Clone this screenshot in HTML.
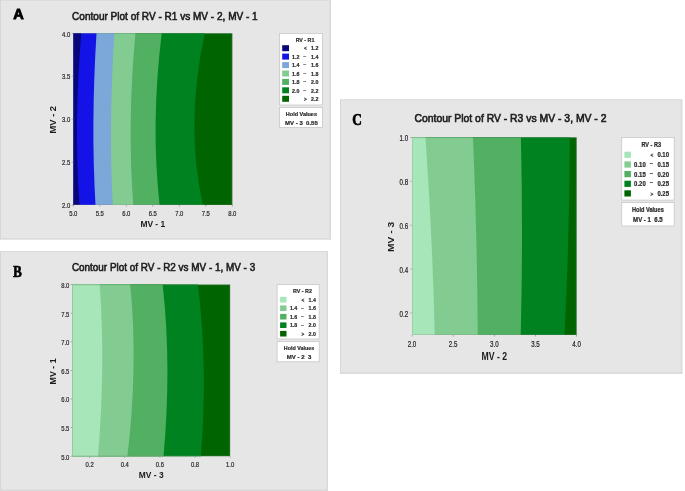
<!DOCTYPE html>
<html lang="en">
<head>
<meta charset="utf-8">
<title>Contour Plots</title>
<style>
html,body{margin:0;padding:0;background:#fff;}
body{width:685px;height:491px;overflow:hidden;}
svg{display:block;font-family:"Liberation Sans",sans-serif;}
</style>
</head>
<body>
<svg width="685" height="491" viewBox="0 0 685 491">
<rect x="0" y="0" width="331" height="239.5" fill="#e6e6e6"/>
<rect x="0" y="0" width="331" height="1" fill="#dcdcdc"/>
<rect x="0" y="0" width="1" height="239.5" fill="#d6d6d6"/>
<rect x="0" y="238.0" width="331" height="1.5" fill="#dadada"/>
<rect x="329.5" y="0" width="1.5" height="239.5" fill="#dadada"/>
<text x="13.3" y="19.2" font-size="14.6" text-anchor="start" fill="#000" font-weight="bold" textLength="10.5" lengthAdjust="spacingAndGlyphs" stroke="#000" stroke-width="0.9">A</text>
<text x="72.1" y="19.5" font-size="10.0" text-anchor="start" fill="#1c1c1c" textLength="185.6" lengthAdjust="spacingAndGlyphs" stroke="#1c1c1c" stroke-width="0.55">Contour Plot of RV - R1 vs MV - 2, MV - 1</text>
<rect x="73.3" y="33.3" width="159.0" height="171.7" fill="#006400"/>
<path d="M73.3 33.3L204.8 33.3Q184.8 124.8 202.9 205.0L73.3 205.0Z" fill="#008220"/>
<path d="M73.3 33.3L161.7 33.3Q150.6 124.8 159.6 205.0L73.3 205.0Z" fill="#52b062"/>
<path d="M73.3 33.3L135.4 33.3Q127.0 124.8 133.3 205.0L73.3 205.0Z" fill="#82cc92"/>
<path d="M73.3 33.3L114.4 33.3Q108.4 124.8 112.8 205.0L73.3 205.0Z" fill="#7ba7d9"/>
<path d="M73.3 33.3L96.5 33.3Q90.8 124.8 95.5 205.0L73.3 205.0Z" fill="#1313e8"/>
<path d="M73.3 33.3L81.3 33.3Q73.6 124.8 79.5 205.0L73.3 205.0Z" fill="#07077a"/>
<rect x="73.7" y="33.7" width="158.2" height="170.9" fill="none" stroke="#7a8a7a" stroke-opacity="0.3" stroke-width="0.8"/>
<rect x="72.9" y="205.0" width="0.8" height="1.6" fill="#9a9a9a"/>
<text x="73.3" y="215.9" font-size="7.2" text-anchor="middle" fill="#262626" textLength="8.2" lengthAdjust="spacingAndGlyphs" stroke="#262626" stroke-width="0.2">5.0</text>
<rect x="99.4" y="205.0" width="0.8" height="1.6" fill="#9a9a9a"/>
<text x="99.8" y="215.9" font-size="7.2" text-anchor="middle" fill="#262626" textLength="8.2" lengthAdjust="spacingAndGlyphs" stroke="#262626" stroke-width="0.2">5.5</text>
<rect x="125.9" y="205.0" width="0.8" height="1.6" fill="#9a9a9a"/>
<text x="126.3" y="215.9" font-size="7.2" text-anchor="middle" fill="#262626" textLength="8.2" lengthAdjust="spacingAndGlyphs" stroke="#262626" stroke-width="0.2">6.0</text>
<rect x="152.4" y="205.0" width="0.8" height="1.6" fill="#9a9a9a"/>
<text x="152.8" y="215.9" font-size="7.2" text-anchor="middle" fill="#262626" textLength="8.2" lengthAdjust="spacingAndGlyphs" stroke="#262626" stroke-width="0.2">6.5</text>
<rect x="178.9" y="205.0" width="0.8" height="1.6" fill="#9a9a9a"/>
<text x="179.3" y="215.9" font-size="7.2" text-anchor="middle" fill="#262626" textLength="8.2" lengthAdjust="spacingAndGlyphs" stroke="#262626" stroke-width="0.2">7.0</text>
<rect x="205.4" y="205.0" width="0.8" height="1.6" fill="#9a9a9a"/>
<text x="205.8" y="215.9" font-size="7.2" text-anchor="middle" fill="#262626" textLength="8.2" lengthAdjust="spacingAndGlyphs" stroke="#262626" stroke-width="0.2">7.5</text>
<rect x="231.9" y="205.0" width="0.8" height="1.6" fill="#9a9a9a"/>
<text x="232.3" y="215.9" font-size="7.2" text-anchor="middle" fill="#262626" textLength="8.2" lengthAdjust="spacingAndGlyphs" stroke="#262626" stroke-width="0.2">8.0</text>
<rect x="71.7" y="32.9" width="1.6" height="0.8" fill="#9a9a9a"/>
<text x="70.2" y="36.5" font-size="7.2" text-anchor="end" fill="#262626" textLength="8.2" lengthAdjust="spacingAndGlyphs" stroke="#262626" stroke-width="0.2">4.0</text>
<rect x="71.7" y="75.8" width="1.6" height="0.8" fill="#9a9a9a"/>
<text x="70.2" y="79.4" font-size="7.2" text-anchor="end" fill="#262626" textLength="8.2" lengthAdjust="spacingAndGlyphs" stroke="#262626" stroke-width="0.2">3.5</text>
<rect x="71.7" y="118.7" width="1.6" height="0.8" fill="#9a9a9a"/>
<text x="70.2" y="122.3" font-size="7.2" text-anchor="end" fill="#262626" textLength="8.2" lengthAdjust="spacingAndGlyphs" stroke="#262626" stroke-width="0.2">3.0</text>
<rect x="71.7" y="161.7" width="1.6" height="0.8" fill="#9a9a9a"/>
<text x="70.2" y="165.3" font-size="7.2" text-anchor="end" fill="#262626" textLength="8.2" lengthAdjust="spacingAndGlyphs" stroke="#262626" stroke-width="0.2">2.5</text>
<rect x="71.7" y="204.6" width="1.6" height="0.8" fill="#9a9a9a"/>
<text x="70.2" y="208.2" font-size="7.2" text-anchor="end" fill="#262626" textLength="8.2" lengthAdjust="spacingAndGlyphs" stroke="#262626" stroke-width="0.2">2.0</text>
<text x="152.8" y="226.9" font-size="8.2" text-anchor="middle" fill="#1c1c1c" font-weight="bold" textLength="24.8" lengthAdjust="spacingAndGlyphs">MV - 1</text>
<g transform="translate(56.1 119.7) rotate(-90) scale(1.0 1.0)"><text x="0.0" y="0.0" font-size="8.2" text-anchor="middle" fill="#1c1c1c" font-weight="bold" textLength="27.5" lengthAdjust="spacingAndGlyphs">MV - 2</text></g>
<rect x="279.5" y="33.5" width="42.9" height="71.5" fill="#fff" stroke="#c8c8c8" stroke-width="0.8"/>
<text x="305.0" y="41.7" font-size="5.794999999999999" text-anchor="middle" fill="#2a2a2a" font-weight="bold" textLength="18.7" lengthAdjust="spacingAndGlyphs" stroke="#2a2a2a" stroke-width="0.2">RV - R1</text>
<rect x="282.2" y="45.2" width="6.8" height="6" fill="#07077a"/>
<text x="305.4" y="50.1" font-size="4.758" text-anchor="middle" fill="#2a2a2a" font-weight="bold" stroke="#2a2a2a" stroke-width="0.2">&lt;</text>
<text x="318.5" y="50.4" font-size="6.1" text-anchor="end" fill="#2a2a2a" font-weight="bold" textLength="7.4" lengthAdjust="spacingAndGlyphs" stroke="#2a2a2a" stroke-width="0.2">1.2</text>
<rect x="282.2" y="53.6" width="6.8" height="6" fill="#1313e8"/>
<text x="299.5" y="58.8" font-size="6.1" text-anchor="end" fill="#2a2a2a" font-weight="bold" textLength="7.4" lengthAdjust="spacingAndGlyphs" stroke="#2a2a2a" stroke-width="0.2">1.2</text>
<text x="304.7" y="57.9" font-size="6.1" text-anchor="middle" fill="#2a2a2a" font-weight="bold" textLength="3.3" lengthAdjust="spacingAndGlyphs">–</text>
<text x="318.5" y="58.8" font-size="6.1" text-anchor="end" fill="#2a2a2a" font-weight="bold" textLength="7.4" lengthAdjust="spacingAndGlyphs" stroke="#2a2a2a" stroke-width="0.2">1.4</text>
<rect x="282.2" y="62.1" width="6.8" height="6" fill="#7ba7d9"/>
<text x="299.5" y="67.3" font-size="6.1" text-anchor="end" fill="#2a2a2a" font-weight="bold" textLength="7.4" lengthAdjust="spacingAndGlyphs" stroke="#2a2a2a" stroke-width="0.2">1.4</text>
<text x="304.7" y="66.4" font-size="6.1" text-anchor="middle" fill="#2a2a2a" font-weight="bold" textLength="3.3" lengthAdjust="spacingAndGlyphs">–</text>
<text x="318.5" y="67.3" font-size="6.1" text-anchor="end" fill="#2a2a2a" font-weight="bold" textLength="7.4" lengthAdjust="spacingAndGlyphs" stroke="#2a2a2a" stroke-width="0.2">1.6</text>
<rect x="282.2" y="70.5" width="6.8" height="6" fill="#82cc92"/>
<text x="299.5" y="75.7" font-size="6.1" text-anchor="end" fill="#2a2a2a" font-weight="bold" textLength="7.4" lengthAdjust="spacingAndGlyphs" stroke="#2a2a2a" stroke-width="0.2">1.6</text>
<text x="304.7" y="74.8" font-size="6.1" text-anchor="middle" fill="#2a2a2a" font-weight="bold" textLength="3.3" lengthAdjust="spacingAndGlyphs">–</text>
<text x="318.5" y="75.7" font-size="6.1" text-anchor="end" fill="#2a2a2a" font-weight="bold" textLength="7.4" lengthAdjust="spacingAndGlyphs" stroke="#2a2a2a" stroke-width="0.2">1.8</text>
<rect x="282.2" y="78.9" width="6.8" height="6" fill="#52b062"/>
<text x="299.5" y="84.1" font-size="6.1" text-anchor="end" fill="#2a2a2a" font-weight="bold" textLength="7.4" lengthAdjust="spacingAndGlyphs" stroke="#2a2a2a" stroke-width="0.2">1.8</text>
<text x="304.7" y="83.2" font-size="6.1" text-anchor="middle" fill="#2a2a2a" font-weight="bold" textLength="3.3" lengthAdjust="spacingAndGlyphs">–</text>
<text x="318.5" y="84.1" font-size="6.1" text-anchor="end" fill="#2a2a2a" font-weight="bold" textLength="7.4" lengthAdjust="spacingAndGlyphs" stroke="#2a2a2a" stroke-width="0.2">2.0</text>
<rect x="282.2" y="87.3" width="6.8" height="6" fill="#008220"/>
<text x="299.5" y="92.5" font-size="6.1" text-anchor="end" fill="#2a2a2a" font-weight="bold" textLength="7.4" lengthAdjust="spacingAndGlyphs" stroke="#2a2a2a" stroke-width="0.2">2.0</text>
<text x="304.7" y="91.6" font-size="6.1" text-anchor="middle" fill="#2a2a2a" font-weight="bold" textLength="3.3" lengthAdjust="spacingAndGlyphs">–</text>
<text x="318.5" y="92.5" font-size="6.1" text-anchor="end" fill="#2a2a2a" font-weight="bold" textLength="7.4" lengthAdjust="spacingAndGlyphs" stroke="#2a2a2a" stroke-width="0.2">2.2</text>
<rect x="282.2" y="95.8" width="6.8" height="6" fill="#006400"/>
<text x="305.4" y="100.7" font-size="4.758" text-anchor="middle" fill="#2a2a2a" font-weight="bold" stroke="#2a2a2a" stroke-width="0.2">&gt;</text>
<text x="318.5" y="101.0" font-size="6.1" text-anchor="end" fill="#2a2a2a" font-weight="bold" textLength="7.4" lengthAdjust="spacingAndGlyphs" stroke="#2a2a2a" stroke-width="0.2">2.2</text>
<rect x="279.5" y="107.6" width="42.9" height="19.9" fill="#fff" stroke="#c8c8c8" stroke-width="0.8"/>
<text x="301.4" y="115.8" font-size="6.0" text-anchor="middle" fill="#2a2a2a" font-weight="bold" textLength="31.2" lengthAdjust="spacingAndGlyphs" stroke="#2a2a2a" stroke-width="0.2">Hold Values</text>
<text x="301.4" y="124.6" font-size="6.0" text-anchor="middle" fill="#2a2a2a" font-weight="bold" textLength="32.7" lengthAdjust="spacingAndGlyphs" stroke="#2a2a2a" stroke-width="0.2" xml:space="preserve">MV - 3  0.55</text>
<rect x="0" y="251" width="328" height="240" fill="#e6e6e6"/>
<rect x="0" y="251" width="328" height="1" fill="#dcdcdc"/>
<rect x="0" y="251" width="1" height="240" fill="#d6d6d6"/>
<rect x="0" y="489.5" width="328" height="1.5" fill="#dadada"/>
<rect x="326.5" y="251" width="1.5" height="240" fill="#dadada"/>
<text x="12.9" y="276.5" font-size="15.8" text-anchor="start" fill="#000" font-weight="bold" textLength="8.8" lengthAdjust="spacingAndGlyphs" stroke="#000" stroke-width="0.6" font-family='"Liberation Serif", serif'>B</text>
<text x="71.9" y="270.5" font-size="10.0" text-anchor="start" fill="#1c1c1c" textLength="183.3" lengthAdjust="spacingAndGlyphs" stroke="#1c1c1c" stroke-width="0.55">Contour Plot of RV - R2 vs MV - 1, MV - 3</text>
<rect x="72.2" y="284.6" width="157.9" height="171.6" fill="#006400"/>
<path d="M72.2 284.6L197.9 284.6Q208.0 365.6 200.9 456.2L72.2 456.2Z" fill="#008220"/>
<path d="M72.2 284.6L162.6 284.6Q171.8 365.6 163.5 456.2L72.2 456.2Z" fill="#52b062"/>
<path d="M72.2 284.6L130.2 284.6Q138.2 365.6 127.4 456.2L72.2 456.2Z" fill="#82cc92"/>
<path d="M72.2 284.6L99.7 284.6Q105.6 365.6 98.0 456.2L72.2 456.2Z" fill="#a6e6b8"/>
<rect x="72.6" y="285.0" width="157.1" height="170.8" fill="none" stroke="#7a8a7a" stroke-opacity="0.3" stroke-width="0.8"/>
<rect x="89.3" y="456.2" width="0.8" height="1.6" fill="#9a9a9a"/>
<text x="89.7" y="466.7" font-size="7.2" text-anchor="middle" fill="#262626" textLength="8.2" lengthAdjust="spacingAndGlyphs" stroke="#262626" stroke-width="0.2">0.2</text>
<rect x="124.4" y="456.2" width="0.8" height="1.6" fill="#9a9a9a"/>
<text x="124.8" y="466.7" font-size="7.2" text-anchor="middle" fill="#262626" textLength="8.2" lengthAdjust="spacingAndGlyphs" stroke="#262626" stroke-width="0.2">0.4</text>
<rect x="159.5" y="456.2" width="0.8" height="1.6" fill="#9a9a9a"/>
<text x="159.9" y="466.7" font-size="7.2" text-anchor="middle" fill="#262626" textLength="8.2" lengthAdjust="spacingAndGlyphs" stroke="#262626" stroke-width="0.2">0.6</text>
<rect x="194.6" y="456.2" width="0.8" height="1.6" fill="#9a9a9a"/>
<text x="195.0" y="466.7" font-size="7.2" text-anchor="middle" fill="#262626" textLength="8.2" lengthAdjust="spacingAndGlyphs" stroke="#262626" stroke-width="0.2">0.8</text>
<rect x="229.7" y="456.2" width="0.8" height="1.6" fill="#9a9a9a"/>
<text x="230.1" y="466.7" font-size="7.2" text-anchor="middle" fill="#262626" textLength="8.2" lengthAdjust="spacingAndGlyphs" stroke="#262626" stroke-width="0.2">1.0</text>
<rect x="70.6" y="284.2" width="1.6" height="0.8" fill="#9a9a9a"/>
<text x="69.4" y="288.0" font-size="7.2" text-anchor="end" fill="#262626" textLength="8.2" lengthAdjust="spacingAndGlyphs" stroke="#262626" stroke-width="0.2">8.0</text>
<rect x="70.6" y="312.8" width="1.6" height="0.8" fill="#9a9a9a"/>
<text x="69.4" y="316.6" font-size="7.2" text-anchor="end" fill="#262626" textLength="8.2" lengthAdjust="spacingAndGlyphs" stroke="#262626" stroke-width="0.2">7.5</text>
<rect x="70.6" y="341.4" width="1.6" height="0.8" fill="#9a9a9a"/>
<text x="69.4" y="345.2" font-size="7.2" text-anchor="end" fill="#262626" textLength="8.2" lengthAdjust="spacingAndGlyphs" stroke="#262626" stroke-width="0.2">7.0</text>
<rect x="70.6" y="370.0" width="1.6" height="0.8" fill="#9a9a9a"/>
<text x="69.4" y="373.8" font-size="7.2" text-anchor="end" fill="#262626" textLength="8.2" lengthAdjust="spacingAndGlyphs" stroke="#262626" stroke-width="0.2">6.5</text>
<rect x="70.6" y="398.6" width="1.6" height="0.8" fill="#9a9a9a"/>
<text x="69.4" y="402.4" font-size="7.2" text-anchor="end" fill="#262626" textLength="8.2" lengthAdjust="spacingAndGlyphs" stroke="#262626" stroke-width="0.2">6.0</text>
<rect x="70.6" y="427.2" width="1.6" height="0.8" fill="#9a9a9a"/>
<text x="69.4" y="431.0" font-size="7.2" text-anchor="end" fill="#262626" textLength="8.2" lengthAdjust="spacingAndGlyphs" stroke="#262626" stroke-width="0.2">5.5</text>
<rect x="70.6" y="455.8" width="1.6" height="0.8" fill="#9a9a9a"/>
<text x="69.4" y="459.6" font-size="7.2" text-anchor="end" fill="#262626" textLength="8.2" lengthAdjust="spacingAndGlyphs" stroke="#262626" stroke-width="0.2">5.0</text>
<text x="151.2" y="478.2" font-size="8.2" text-anchor="middle" fill="#1c1c1c" font-weight="bold" textLength="24.8" lengthAdjust="spacingAndGlyphs">MV - 3</text>
<g transform="translate(55.7 371.4) rotate(-90) scale(1.0 1.0)"><text x="0.0" y="0.0" font-size="8.2" text-anchor="middle" fill="#1c1c1c" font-weight="bold" textLength="26.0" lengthAdjust="spacingAndGlyphs">MV - 1</text></g>
<rect x="277.1" y="284.6" width="42.1" height="54.4" fill="#fff" stroke="#c8c8c8" stroke-width="0.8"/>
<text x="302.4" y="293.0" font-size="5.794999999999999" text-anchor="middle" fill="#2a2a2a" font-weight="bold" textLength="19.0" lengthAdjust="spacingAndGlyphs" stroke="#2a2a2a" stroke-width="0.2">RV - R2</text>
<rect x="280.1" y="296.9" width="6.4" height="5.6" fill="#a6e6b8"/>
<text x="303.0" y="301.6" font-size="4.758" text-anchor="middle" fill="#2a2a2a" font-weight="bold" stroke="#2a2a2a" stroke-width="0.2">&lt;</text>
<text x="315.9" y="301.9" font-size="6.1" text-anchor="end" fill="#2a2a2a" font-weight="bold" textLength="7.3" lengthAdjust="spacingAndGlyphs" stroke="#2a2a2a" stroke-width="0.2">1.4</text>
<rect x="280.1" y="305.4" width="6.4" height="5.6" fill="#82cc92"/>
<text x="297.2" y="310.4" font-size="6.1" text-anchor="end" fill="#2a2a2a" font-weight="bold" textLength="7.3" lengthAdjust="spacingAndGlyphs" stroke="#2a2a2a" stroke-width="0.2">1.4</text>
<text x="302.3" y="309.5" font-size="6.1" text-anchor="middle" fill="#2a2a2a" font-weight="bold" textLength="3.3" lengthAdjust="spacingAndGlyphs">–</text>
<text x="315.9" y="310.4" font-size="6.1" text-anchor="end" fill="#2a2a2a" font-weight="bold" textLength="7.3" lengthAdjust="spacingAndGlyphs" stroke="#2a2a2a" stroke-width="0.2">1.6</text>
<rect x="280.1" y="313.9" width="6.4" height="5.6" fill="#52b062"/>
<text x="297.2" y="318.9" font-size="6.1" text-anchor="end" fill="#2a2a2a" font-weight="bold" textLength="7.3" lengthAdjust="spacingAndGlyphs" stroke="#2a2a2a" stroke-width="0.2">1.6</text>
<text x="302.3" y="318.0" font-size="6.1" text-anchor="middle" fill="#2a2a2a" font-weight="bold" textLength="3.3" lengthAdjust="spacingAndGlyphs">–</text>
<text x="315.9" y="318.9" font-size="6.1" text-anchor="end" fill="#2a2a2a" font-weight="bold" textLength="7.3" lengthAdjust="spacingAndGlyphs" stroke="#2a2a2a" stroke-width="0.2">1.8</text>
<rect x="280.1" y="322.4" width="6.4" height="5.6" fill="#008220"/>
<text x="297.2" y="327.4" font-size="6.1" text-anchor="end" fill="#2a2a2a" font-weight="bold" textLength="7.3" lengthAdjust="spacingAndGlyphs" stroke="#2a2a2a" stroke-width="0.2">1.8</text>
<text x="302.3" y="326.5" font-size="6.1" text-anchor="middle" fill="#2a2a2a" font-weight="bold" textLength="3.3" lengthAdjust="spacingAndGlyphs">–</text>
<text x="315.9" y="327.4" font-size="6.1" text-anchor="end" fill="#2a2a2a" font-weight="bold" textLength="7.3" lengthAdjust="spacingAndGlyphs" stroke="#2a2a2a" stroke-width="0.2">2.0</text>
<rect x="280.1" y="330.9" width="6.4" height="5.6" fill="#006400"/>
<text x="303.0" y="335.6" font-size="4.758" text-anchor="middle" fill="#2a2a2a" font-weight="bold" stroke="#2a2a2a" stroke-width="0.2">&gt;</text>
<text x="315.9" y="335.9" font-size="6.1" text-anchor="end" fill="#2a2a2a" font-weight="bold" textLength="7.3" lengthAdjust="spacingAndGlyphs" stroke="#2a2a2a" stroke-width="0.2">2.0</text>
<rect x="277.1" y="341.5" width="42.1" height="20.3" fill="#fff" stroke="#c8c8c8" stroke-width="0.8"/>
<text x="299.0" y="350.0" font-size="6.0" text-anchor="middle" fill="#2a2a2a" font-weight="bold" textLength="30.3" lengthAdjust="spacingAndGlyphs" stroke="#2a2a2a" stroke-width="0.2">Hold Values</text>
<text x="299.0" y="358.6" font-size="6.0" text-anchor="middle" fill="#2a2a2a" font-weight="bold" textLength="24.5" lengthAdjust="spacingAndGlyphs" stroke="#2a2a2a" stroke-width="0.2" xml:space="preserve">MV - 2  3</text>
<rect x="340" y="99.3" width="342.3" height="274.5" fill="#e6e6e6"/>
<rect x="340" y="99.3" width="342.3" height="1" fill="#dcdcdc"/>
<rect x="340" y="99.3" width="1" height="274.5" fill="#d6d6d6"/>
<rect x="340" y="372.3" width="342.3" height="1.5" fill="#dadada"/>
<rect x="680.8" y="99.3" width="1.5" height="274.5" fill="#dadada"/>
<text x="352.3" y="124.6" font-size="16.4" text-anchor="start" fill="#000" font-weight="bold" textLength="9.6" lengthAdjust="spacingAndGlyphs" stroke="#000" stroke-width="0.7" font-family='"Liberation Serif", serif'>C</text>
<g transform="translate(414.5 122.4) scale(1.0 1.14)"><text x="0.0" y="0.0" font-size="10.0" text-anchor="start" fill="#1c1c1c" textLength="192.0" lengthAdjust="spacingAndGlyphs" stroke="#1c1c1c" stroke-width="0.55">Contour Plot of RV - R3 vs MV - 3, MV - 2</text></g>
<rect x="412.0" y="137.4" width="164.6" height="197.6" fill="#006400"/>
<path d="M412.0 137.4L569.8 137.4Q569.6 236.2 564.5 335.0L412.0 335.0Z" fill="#008220"/>
<path d="M412.0 137.4L520.9 137.4Q523.2 236.2 520.7 335.0L412.0 335.0Z" fill="#52b062"/>
<path d="M412.0 137.4L473.0 137.4Q477.2 236.2 477.7 335.0L412.0 335.0Z" fill="#82cc92"/>
<path d="M412.0 137.4L425.5 137.4Q432.5 236.2 434.7 335.0L412.0 335.0Z" fill="#a6e6b8"/>
<rect x="412.4" y="137.8" width="163.8" height="196.8" fill="none" stroke="#7a8a7a" stroke-opacity="0.3" stroke-width="0.8"/>
<rect x="411.6" y="335.0" width="0.8" height="1.6" fill="#9a9a9a"/>
<g transform="translate(412.0 346.7) scale(1.0 1.14)"><text x="0.0" y="0.0" font-size="7.2" text-anchor="middle" fill="#262626" textLength="8.6" lengthAdjust="spacingAndGlyphs" stroke="#262626" stroke-width="0.2">2.0</text></g>
<rect x="452.8" y="335.0" width="0.8" height="1.6" fill="#9a9a9a"/>
<g transform="translate(453.1 346.7) scale(1.0 1.14)"><text x="0.0" y="0.0" font-size="7.2" text-anchor="middle" fill="#262626" textLength="8.6" lengthAdjust="spacingAndGlyphs" stroke="#262626" stroke-width="0.2">2.5</text></g>
<rect x="493.9" y="335.0" width="0.8" height="1.6" fill="#9a9a9a"/>
<g transform="translate(494.3 346.7) scale(1.0 1.14)"><text x="0.0" y="0.0" font-size="7.2" text-anchor="middle" fill="#262626" textLength="8.6" lengthAdjust="spacingAndGlyphs" stroke="#262626" stroke-width="0.2">3.0</text></g>
<rect x="535.1" y="335.0" width="0.8" height="1.6" fill="#9a9a9a"/>
<g transform="translate(535.5 346.7) scale(1.0 1.14)"><text x="0.0" y="0.0" font-size="7.2" text-anchor="middle" fill="#262626" textLength="8.6" lengthAdjust="spacingAndGlyphs" stroke="#262626" stroke-width="0.2">3.5</text></g>
<rect x="576.2" y="335.0" width="0.8" height="1.6" fill="#9a9a9a"/>
<g transform="translate(576.6 346.7) scale(1.0 1.14)"><text x="0.0" y="0.0" font-size="7.2" text-anchor="middle" fill="#262626" textLength="8.6" lengthAdjust="spacingAndGlyphs" stroke="#262626" stroke-width="0.2">4.0</text></g>
<rect x="410.4" y="137.0" width="1.6" height="0.8" fill="#9a9a9a"/>
<g transform="translate(408.1 141.3) scale(1.0 1.14)"><text x="0.0" y="0.0" font-size="7.2" text-anchor="end" fill="#262626" textLength="8.6" lengthAdjust="spacingAndGlyphs" stroke="#262626" stroke-width="0.2">1.0</text></g>
<rect x="410.4" y="180.9" width="1.6" height="0.8" fill="#9a9a9a"/>
<g transform="translate(408.1 185.2) scale(1.0 1.14)"><text x="0.0" y="0.0" font-size="7.2" text-anchor="end" fill="#262626" textLength="8.6" lengthAdjust="spacingAndGlyphs" stroke="#262626" stroke-width="0.2">0.8</text></g>
<rect x="410.4" y="224.8" width="1.6" height="0.8" fill="#9a9a9a"/>
<g transform="translate(408.1 229.1) scale(1.0 1.14)"><text x="0.0" y="0.0" font-size="7.2" text-anchor="end" fill="#262626" textLength="8.6" lengthAdjust="spacingAndGlyphs" stroke="#262626" stroke-width="0.2">0.6</text></g>
<rect x="410.4" y="268.7" width="1.6" height="0.8" fill="#9a9a9a"/>
<g transform="translate(408.1 273.0) scale(1.0 1.14)"><text x="0.0" y="0.0" font-size="7.2" text-anchor="end" fill="#262626" textLength="8.6" lengthAdjust="spacingAndGlyphs" stroke="#262626" stroke-width="0.2">0.4</text></g>
<rect x="410.4" y="312.6" width="1.6" height="0.8" fill="#9a9a9a"/>
<g transform="translate(408.1 316.9) scale(1.0 1.14)"><text x="0.0" y="0.0" font-size="7.2" text-anchor="end" fill="#262626" textLength="8.6" lengthAdjust="spacingAndGlyphs" stroke="#262626" stroke-width="0.2">0.2</text></g>
<g transform="translate(494.3 359.9) scale(1.035 1.14)"><text x="0.0" y="0.0" font-size="8.8" text-anchor="middle" fill="#1c1c1c" font-weight="bold" textLength="24.8" lengthAdjust="spacingAndGlyphs">MV - 2</text></g>
<g transform="translate(393.5 236.9) rotate(-90) scale(1.14 1.035)"><text x="0.0" y="0.0" font-size="8.8" text-anchor="middle" fill="#1c1c1c" font-weight="bold" textLength="26.5" lengthAdjust="spacingAndGlyphs">MV - 3</text></g>
<rect x="621.7" y="137.4" width="52.5" height="62.7" fill="#fff" stroke="#c8c8c8" stroke-width="0.8"/>
<g transform="translate(651.2 147.0) scale(1.0 1.14)"><text x="0.0" y="0.0" font-size="5.794999999999999" text-anchor="middle" fill="#2a2a2a" font-weight="bold" textLength="19.5" lengthAdjust="spacingAndGlyphs" stroke="#2a2a2a" stroke-width="0.2">RV - R3</text></g>
<rect x="624.4" y="151.7" width="6.5" height="6.2" fill="#a6e6b8"/>
<g transform="translate(652.0 157.0) scale(1.0 1.14)"><text x="0.0" y="0.0" font-size="4.758" text-anchor="middle" fill="#2a2a2a" font-weight="bold" stroke="#2a2a2a" stroke-width="0.2">&lt;</text></g>
<g transform="translate(669.0 157.3) scale(1.0 1.14)"><text x="0.0" y="0.0" font-size="6.1" text-anchor="end" fill="#2a2a2a" font-weight="bold" textLength="11.6" lengthAdjust="spacingAndGlyphs" stroke="#2a2a2a" stroke-width="0.2">0.10</text></g>
<rect x="624.4" y="161.4" width="6.5" height="6.2" fill="#82cc92"/>
<g transform="translate(645.7 167.0) scale(1.0 1.14)"><text x="0.0" y="0.0" font-size="6.1" text-anchor="end" fill="#2a2a2a" font-weight="bold" textLength="11.6" lengthAdjust="spacingAndGlyphs" stroke="#2a2a2a" stroke-width="0.2">0.10</text></g>
<g transform="translate(651.3 165.9) scale(1.0 1.14)"><text x="0.0" y="0.0" font-size="6.1" text-anchor="middle" fill="#2a2a2a" font-weight="bold" textLength="3.3" lengthAdjust="spacingAndGlyphs">–</text></g>
<g transform="translate(669.0 167.0) scale(1.0 1.14)"><text x="0.0" y="0.0" font-size="6.1" text-anchor="end" fill="#2a2a2a" font-weight="bold" textLength="11.6" lengthAdjust="spacingAndGlyphs" stroke="#2a2a2a" stroke-width="0.2">0.15</text></g>
<rect x="624.4" y="171.0" width="6.5" height="6.2" fill="#52b062"/>
<g transform="translate(645.7 176.6) scale(1.0 1.14)"><text x="0.0" y="0.0" font-size="6.1" text-anchor="end" fill="#2a2a2a" font-weight="bold" textLength="11.6" lengthAdjust="spacingAndGlyphs" stroke="#2a2a2a" stroke-width="0.2">0.15</text></g>
<g transform="translate(651.3 175.6) scale(1.0 1.14)"><text x="0.0" y="0.0" font-size="6.1" text-anchor="middle" fill="#2a2a2a" font-weight="bold" textLength="3.3" lengthAdjust="spacingAndGlyphs">–</text></g>
<g transform="translate(669.0 176.6) scale(1.0 1.14)"><text x="0.0" y="0.0" font-size="6.1" text-anchor="end" fill="#2a2a2a" font-weight="bold" textLength="11.6" lengthAdjust="spacingAndGlyphs" stroke="#2a2a2a" stroke-width="0.2">0.20</text></g>
<rect x="624.4" y="180.7" width="6.5" height="6.2" fill="#008220"/>
<g transform="translate(645.7 186.3) scale(1.0 1.14)"><text x="0.0" y="0.0" font-size="6.1" text-anchor="end" fill="#2a2a2a" font-weight="bold" textLength="11.6" lengthAdjust="spacingAndGlyphs" stroke="#2a2a2a" stroke-width="0.2">0.20</text></g>
<g transform="translate(651.3 185.3) scale(1.0 1.14)"><text x="0.0" y="0.0" font-size="6.1" text-anchor="middle" fill="#2a2a2a" font-weight="bold" textLength="3.3" lengthAdjust="spacingAndGlyphs">–</text></g>
<g transform="translate(669.0 186.3) scale(1.0 1.14)"><text x="0.0" y="0.0" font-size="6.1" text-anchor="end" fill="#2a2a2a" font-weight="bold" textLength="11.6" lengthAdjust="spacingAndGlyphs" stroke="#2a2a2a" stroke-width="0.2">0.25</text></g>
<rect x="624.4" y="190.3" width="6.5" height="6.2" fill="#006400"/>
<g transform="translate(652.0 195.6) scale(1.0 1.14)"><text x="0.0" y="0.0" font-size="4.758" text-anchor="middle" fill="#2a2a2a" font-weight="bold" stroke="#2a2a2a" stroke-width="0.2">&gt;</text></g>
<g transform="translate(669.0 195.9) scale(1.0 1.14)"><text x="0.0" y="0.0" font-size="6.1" text-anchor="end" fill="#2a2a2a" font-weight="bold" textLength="11.6" lengthAdjust="spacingAndGlyphs" stroke="#2a2a2a" stroke-width="0.2">0.25</text></g>
<rect x="621.7" y="202.5" width="52.5" height="23.5" fill="#fff" stroke="#c8c8c8" stroke-width="0.8"/>
<g transform="translate(647.9 212.3) scale(1.0 1.14)"><text x="0.0" y="0.0" font-size="6.0" text-anchor="middle" fill="#2a2a2a" font-weight="bold" textLength="31.7" lengthAdjust="spacingAndGlyphs" stroke="#2a2a2a" stroke-width="0.2">Hold Values</text></g>
<g transform="translate(647.9 222.3) scale(1.0 1.14)"><text x="0.0" y="0.0" font-size="6.0" text-anchor="middle" fill="#2a2a2a" font-weight="bold" textLength="29.6" lengthAdjust="spacingAndGlyphs" stroke="#2a2a2a" stroke-width="0.2" xml:space="preserve">MV - 1  6.5</text></g>
</svg>
</body>
</html>
